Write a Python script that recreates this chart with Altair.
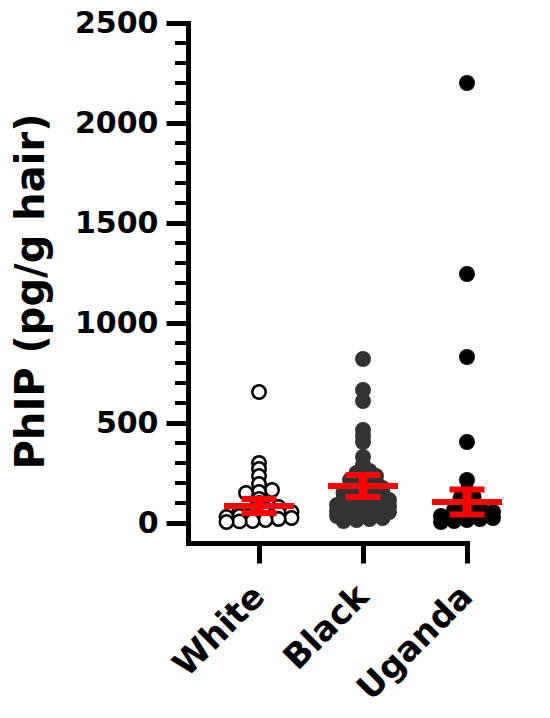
import altair as alt
import pandas as pd

# ---- data ----
groups = ["White", "Black", "Uganda"]
white_vals = [655, 300, 270, 235, 195, 165, 155, 150, 120, 100, 80, 70, 65, 60,
              55, 50, 45, 40, 35, 30, 25, 20, 15, 10, 8, 5]
black_vals = [820, 665, 610, 465, 435, 405, 330, 290, 260, 250, 235, 225, 215,
              205, 195, 185, 175, 165, 155, 150, 145, 135, 125, 120,
              115, 105, 100, 95, 90, 85, 80, 70, 65, 60,
              55, 50, 45, 40, 35, 25, 20, 15, 10]
uganda_vals = [2200, 1245, 830, 405, 215, 160, 130, 125, 100, 95, 75, 70, 65,
               55, 50, 45, 40, 35, 25, 20, 15, 10, 5]
means = [85, 185, 105]
sems = [35, 55, 63]
y_ticks = [0, 500, 1000, 1500, 2000, 2500]
y_minor = [v for v in range(100, 2500, 100) if v % 500 != 0]

# ---- layout constants ----
W, H = 279, 520
X_DOMAIN = [-0.683, 2.0]
Y_DOMAIN = [-100, 2500]
PX_PER_X = W / (X_DOMAIN[1] - X_DOMAIN[0])
FONT = "DejaVu Sans"
ROW_UNITS = 30     # bin height (data units) for the scatter-dot rows
DOT_SPACING = 13   # px between neighbouring dots in a row


def row_offsets(vals):
    """Prism-like scatter-dot layout: dots in the same value bin are spread evenly."""
    bins = {}
    for i, v in enumerate(vals):
        bins.setdefault(int(v // ROW_UNITS), []).append(i)
    offs = [0.0] * len(vals)
    for idxs in bins.values():
        idxs = sorted(idxs, key=lambda i: vals[i])
        k = len(idxs)
        for j, i in enumerate(idxs):
            offs[i] = (j - (k - 1) / 2) * DOT_SPACING
    return offs


rows = []
for gi, (g, vals) in enumerate(zip(groups, [white_vals, black_vals, uganda_vals])):
    for v, o in zip(vals, row_offsets(vals)):
        rows.append({"group": g, "value": v, "x": gi + o / PX_PER_X})
pts = pd.DataFrame(rows)

stats = pd.DataFrame({
    "group": groups,
    "x": list(range(len(groups))),
    "mean": means,
    "lo": [m - s for m, s in zip(means, sems)],
    "hi": [m + s for m, s in zip(means, sems)],
})
minor = pd.DataFrame({"v": y_minor})

x_scale = alt.Scale(domain=X_DOMAIN, nice=False, zero=False)
y_scale = alt.Scale(domain=Y_DOMAIN, nice=False, zero=False)

x_axis = alt.Axis(
    values=[0, 1, 2],
    labelExpr="['White','Black','Uganda'][datum.value]",
    labelAngle=-45, labelAlign="right", labelBaseline="middle",
    labelFont=FONT, labelFontWeight="bold", labelFontSize=34, labelColor="black",
    labelPadding=28, labelOverlap=False, labelBound=False, labelFlush=False,
    tickSize=20, tickWidth=5, tickColor="black",
    domainWidth=5, domainColor="black", domainCap="square",
    grid=False, title=None,
)
y_axis = alt.Axis(
    values=y_ticks, format="d",
    labelFont=FONT, labelFontWeight="bold", labelFontSize=30, labelColor="black",
    labelPadding=8, labelOverlap=False,
    tickSize=22, tickWidth=5, tickColor="black",
    domainWidth=5, domainColor="black", domainCap="square",
    grid=False,
    title="PhIP (pg/g hair)",
    titleFont=FONT, titleFontWeight="bold", titleFontSize=40, titleColor="black",
    titleAngle=270, titleAlign="center", titleBaseline="bottom",
    titleX=-137, titleY=268,
)

points = alt.Chart(pts).mark_point(filled=True, size=180, strokeWidth=2.5, opacity=1).encode(
    x=alt.X("x:Q", scale=x_scale, axis=x_axis),
    y=alt.Y("value:Q", scale=y_scale, axis=y_axis),
    fill=alt.Fill("group:N", scale=alt.Scale(domain=groups, range=["white", "#333333", "black"]), legend=None),
    stroke=alt.Stroke("group:N", scale=alt.Scale(domain=groups, range=["black", "#333333", "black"]), legend=None),
)

minor_ticks = alt.Chart(minor).mark_rule(color="black", strokeWidth=4).encode(
    y=alt.Y("v:Q", scale=y_scale),
    x=alt.value(-13),
    x2=alt.value(0),
)

vbar = alt.Chart(stats).mark_rule(color="#ff0000", strokeWidth=9).encode(
    x=alt.X("x:Q", scale=x_scale),
    y=alt.Y("lo:Q", scale=y_scale),
    y2="hi:Q",
)
mean_line = alt.Chart(stats).mark_tick(color="#ff0000", orient="horizontal", size=70, thickness=6, opacity=1).encode(
    x=alt.X("x:Q", scale=x_scale),
    y=alt.Y("mean:Q", scale=y_scale),
)
cap_lo = alt.Chart(stats).mark_tick(color="#ff0000", orient="horizontal", size=35, thickness=6, opacity=1).encode(
    x=alt.X("x:Q", scale=x_scale),
    y=alt.Y("lo:Q", scale=y_scale),
)
cap_hi = alt.Chart(stats).mark_tick(color="#ff0000", orient="horizontal", size=35, thickness=6, opacity=1).encode(
    x=alt.X("x:Q", scale=x_scale),
    y=alt.Y("hi:Q", scale=y_scale),
)

chart = alt.layer(minor_ticks, points, vbar, mean_line, cap_lo, cap_hi).properties(
    width=W, height=H,
    autosize=alt.AutoSizeParams(type="none"),
    padding={"left": 180, "top": 15, "right": 75, "bottom": 167},
).configure_view(strokeWidth=0)

chart.save("out.html", embed_options={"renderer": "svg", "actions": False})
